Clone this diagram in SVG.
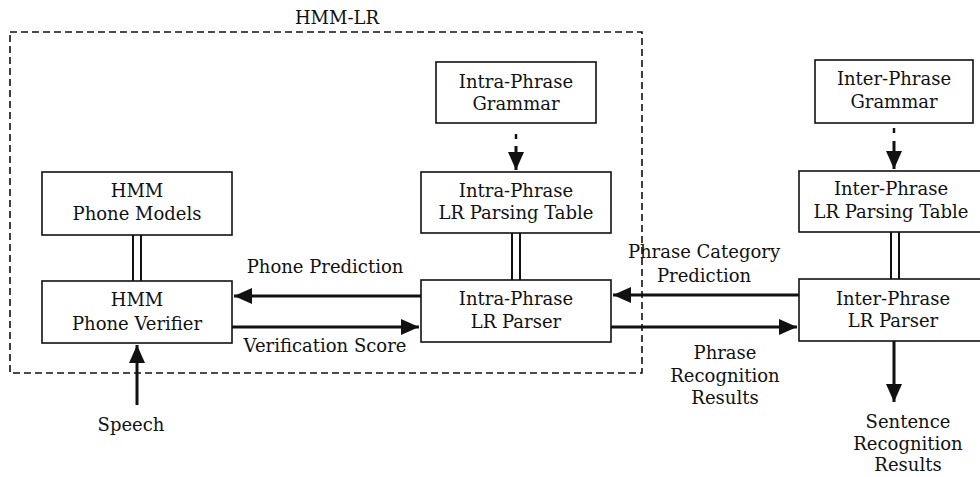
<svg xmlns="http://www.w3.org/2000/svg" width="980" height="477" viewBox="0 0 980 477">
<style>
text{font-family:"DejaVu Serif","Liberation Serif",serif;font-size:18px;fill:#111;text-anchor:middle}
.box{fill:#fff;stroke:#111;stroke-width:1.6}
.arr{stroke:#111;stroke-width:3;fill:none}
.dbl{stroke:#111;stroke-width:2;fill:none}
.dot{stroke:#111;stroke-width:2.5;fill:none}
.frame{fill:none;stroke:#111;stroke-width:1.6;stroke-dasharray:7 4}
</style>
<defs>
<marker id="ah" markerUnits="userSpaceOnUse" markerWidth="20" markerHeight="16" refX="18" refY="8" orient="auto">
<path d="M0,0 L18,8 L0,16 Z" fill="#111"/>
</marker>
</defs>
<g id="hmm-lr">
<rect class="frame" x="10" y="32" width="632" height="341"/>
<text x="337" y="24">HMM-LR</text>
</g>
<g id="connectors">
<path class="dbl" d="M133,235V281M141,235V281"/>
<path class="dbl" d="M512,233V280M520,233V280"/>
<path class="dbl" d="M891,232V279M899,232V279"/>
<path class="dot" d="M516,134V139"/>
<path class="arr" d="M516,146V170" marker-end="url(#ah)"/>
<path class="dot" d="M894,128V133"/>
<path class="arr" d="M894,141V169" marker-end="url(#ah)"/>
<path class="arr" d="M421,296H234" marker-end="url(#ah)"/>
<path class="arr" d="M232,327H419" marker-end="url(#ah)"/>
<path class="arr" d="M799,295H613" marker-end="url(#ah)"/>
<path class="arr" d="M611,327H797" marker-end="url(#ah)"/>
<path class="arr" d="M137,405V345" marker-end="url(#ah)"/>
<path class="arr" d="M894,341V402" marker-end="url(#ah)"/>
<text x="325" y="273">Phone Prediction</text>
<text x="325" y="352">Verification Score</text>
<text x="704" y="258">Phrase Category</text>
<text x="704" y="282">Prediction</text>
<text x="725" y="359">Phrase</text>
<text x="725" y="382">Recognition</text>
<text x="725" y="404">Results</text>
<text x="131" y="431">Speech</text>
<text x="908" y="428">Sentence</text>
<text x="908" y="450">Recognition</text>
<text x="908" y="471">Results</text>
</g>
<g id="phone-models">
<rect class="box" x="42" y="172" width="190" height="63"/>
<text x="137" y="197">HMM</text>
<text x="137" y="220">Phone Models</text>
</g>
<g id="phone-verifier">
<rect class="box" x="42" y="281" width="190" height="62"/>
<text x="137" y="306">HMM</text>
<text x="137" y="330">Phone Verifier</text>
</g>
<g id="intra-grammar">
<rect class="box" x="436" y="62" width="160" height="61"/>
<text x="516" y="88">Intra-Phrase</text>
<text x="516" y="110">Grammar</text>
</g>
<g id="intra-table">
<rect class="box" x="421" y="172" width="190" height="61"/>
<text x="516" y="197">Intra-Phrase</text>
<text x="516" y="219">LR Parsing Table</text>
</g>
<g id="intra-parser">
<rect class="box" x="421" y="280" width="190" height="62"/>
<text x="516" y="305">Intra-Phrase</text>
<text x="516" y="328">LR Parser</text>
</g>
<g id="inter-grammar">
<rect class="box" x="815" y="60" width="158" height="63"/>
<text x="894" y="85">Inter-Phrase</text>
<text x="894" y="108">Grammar</text>
</g>
<g id="inter-table">
<rect class="box" x="799" y="171" width="192" height="61"/>
<text x="891" y="195">Inter-Phrase</text>
<text x="891" y="218">LR Parsing Table</text>
</g>
<g id="inter-parser">
<rect class="box" x="799" y="279" width="192" height="62"/>
<text x="893" y="305">Inter-Phrase</text>
<text x="893" y="327">LR Parser</text>
</g>
</svg>
